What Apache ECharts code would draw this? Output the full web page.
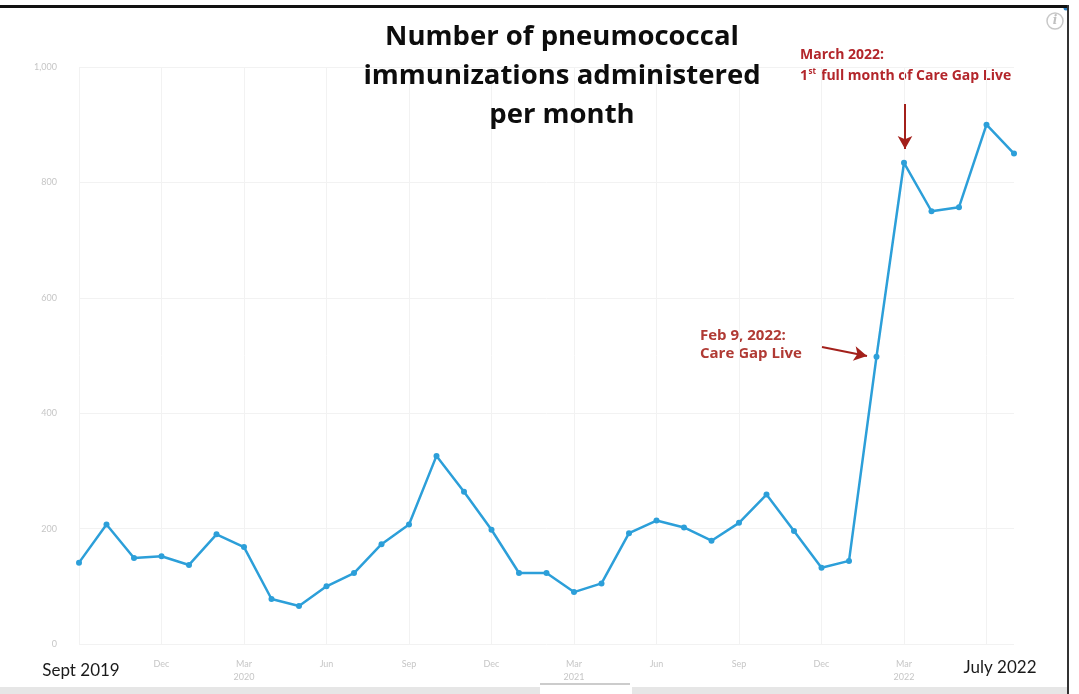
<!DOCTYPE html>
<html>
<head>
<meta charset="utf-8">
<script src="https://cdn.jsdelivr.net/npm/echarts@6/dist/echarts.min.js"></script>
<style>
  html, body { margin: 0; padding: 0; background: #fff; }
  #chart { width: 1079px; height: 694px; }
</style>
</head>
<body>
<div id="chart"></div>
<script>
// months Sept 2019 .. July 2022
const categories = [
  '2019-09', '2019-10', '2019-11', '2019-12',
  '2020-01', '2020-02', '2020-03', '2020-04', '2020-05', '2020-06',
  '2020-07', '2020-08', '2020-09', '2020-10', '2020-11', '2020-12',
  '2021-01', '2021-02', '2021-03', '2021-04', '2021-05', '2021-06',
  '2021-07', '2021-08', '2021-09', '2021-10', '2021-11', '2021-12',
  '2022-01', '2022-02', '2022-03', '2022-04', '2022-05', '2022-06', '2022-07'
]
const immunizations = [
  141, 207, 149, 152,
  137, 190, 168, 78, 66, 100,
  123, 173, 207, 326, 264, 198,
  123, 123, 90, 105, 192, 214,
  202, 179, 210, 259, 196, 132,
  144, 498, 834, 750, 757, 900, 850
]
const tickMonths = ['2019-09', '2019-12', '2020-03', '2020-06', '2020-09', '2020-12',
  '2021-03', '2021-06', '2021-09', '2021-12', '2022-03', '2022-07']
const tickTexts = ['Sept 2019', 'Dec', 'Mar\n2020', 'Jun', 'Sep', 'Dec',
  'Mar\n2021', 'Jun', 'Sep', 'Dec', 'Mar\n2022', 'July 2022']

const red = '#b3262b'
const arrowRed = '#a3201b'
const noteFont = 'bold 14px "Open Sans"'

const chart = echarts.init(document.getElementById('chart'))
chart.setOption({
  backgroundColor: '#fff',
  animation: false,
  title: {
    text: 'Number of pneumococcal\nimmunizations administered\nper month',
    left: 557,
    top: 13,
    textAlign: 'center',
    textStyle: {
      fontFamily: 'Open Sans',
      fontWeight: 'bold',
      fontSize: 27.5,
      lineHeight: 39,
      color: '#0d0d0d'
    }
  },
  grid: { left: 79, right: 65, top: 67, bottom: 50 },
  xAxis: {
    type: 'category',
    data: categories,
    boundaryGap: false,
    axisLine: { show: false },
    axisTick: { show: false },
    splitLine: {
      show: true,
      interval: (i) => i % 3 === 0,
      lineStyle: { color: '#f2f2f2' }
    },
    axisLabel: {
      margin: 14,
      interval: (i, v) => tickMonths.indexOf(v) >= 0,
      formatter: (v, i) => {
        const t = tickTexts[tickMonths.indexOf(v)]
        if (i === 0) return '{first|' + t + '}'
        if (i === categories.length - 1) return '{last|' + t + '}'
        return '{small|' + t + '}'
      },
      rich: {
        small: { fontSize: 9, lineHeight: 13, color: '#c6c6c6', fontFamily: 'Lato' },
        first: { fontSize: 17, lineHeight: 20, color: '#1a1a1a', fontFamily: 'Lato', padding: [5, 0, 0, 4] },
        last: { fontSize: 17, lineHeight: 20, color: '#1a1a1a', fontFamily: 'Lato', padding: [0, 28, 0, 0] }
      }
    }
  },
  yAxis: {
    type: 'value',
    min: 0,
    max: 1000,
    interval: 200,
    axisLine: { show: false },
    axisTick: { show: false },
    splitLine: { lineStyle: { color: '#f2f2f2' } },
    axisLabel: {
      margin: 22,
      fontSize: 9,
      color: '#c6c6c6',
      fontFamily: 'Lato',
      formatter: (v) => v.toLocaleString('en-US')
    }
  },
  series: [{
    type: 'line',
    data: immunizations,
    symbol: 'circle',
    symbolSize: 6,
    itemStyle: { color: '#2c9fd9' },
    lineStyle: { width: 2.5, color: '#2c9fd9' },
    markLine: {
      silent: true,
      symbol: ['none', 'arrow'],
      symbolSize: [11, 13],
      label: { show: false },
      lineStyle: { color: arrowRed, width: 2, type: 'solid' },
      data: [
        [{ x: 905, y: 104 }, { x: 905, y: 149 }],
        [{ x: 822, y: 347 }, { x: 867, y: 356 }]
      ]
    }
  }],
  graphic: [
    { type: 'text', left: 800, top: 48, style: { text: 'March 2022:', fill: red, font: noteFont } },
    // "1st full month ..." with a small raised "st"
    { type: 'text', left: 800, top: 69, style: { text: '1', fill: red, font: noteFont } },
    { type: 'text', left: 808.5, top: 68, style: { text: 'st', fill: red, font: 'bold 8px "Open Sans"' } },
    { type: 'text', left: 821, top: 69, style: { text: 'full month of Care Gap Live', fill: red, font: noteFont } },
    {
      type: 'text', left: 700, top: 327,
      style: { text: 'Feb 9, 2022:\nCare Gap Live', fill: '#b03a34', font: 'bold 15px "Open Sans"', lineHeight: 18 }
    },
    // info icon, top right
    { type: 'circle', shape: { cx: 1055, cy: 21, r: 8 }, style: { fill: 'none', stroke: '#c8c8c8', lineWidth: 1.5 } },
    {
      type: 'text', x: 1055, y: 21,
      style: { text: 'i', fill: '#c0c0c0', font: 'italic bold 12px "DejaVu Serif"', align: 'center', verticalAlign: 'middle' }
    },
    { type: 'circle', shape: { cx: 1066, cy: 8, r: 2.5 }, style: { fill: '#2c7fc4' } },
    // screenshot frame
    { type: 'rect', shape: { x: 0, y: 5, width: 1069, height: 3 }, style: { fill: '#111' } },
    { type: 'rect', shape: { x: 1067, y: 5, width: 2, height: 689 }, style: { fill: '#333' } },
    { type: 'rect', shape: { x: 0, y: 687, width: 1067, height: 7 }, style: { fill: '#e6e6e6' } },
    { type: 'rect', shape: { x: 540, y: 684, width: 92, height: 10 }, style: { fill: '#fff' } },
    { type: 'line', shape: { x1: 540, y1: 684, x2: 630, y2: 684 }, style: { stroke: '#999', lineWidth: 1 } }
  ]
})
</script>
</body>
</html>
